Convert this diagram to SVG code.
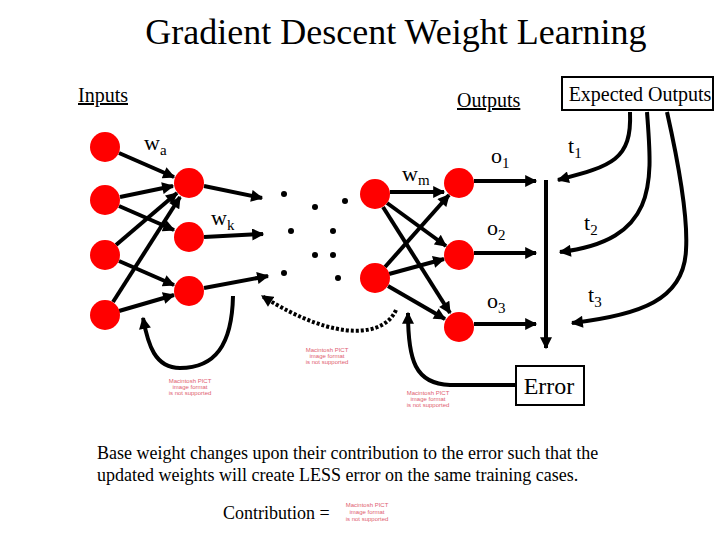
<svg xmlns="http://www.w3.org/2000/svg" width="720" height="540" viewBox="0 0 720 540">
<style>
text{font-family:"Liberation Serif","Times New Roman",serif;fill:#000}
.node{fill:#f00}
.e{stroke:#000;stroke-width:4;fill:none;marker-end:url(#ah)}
.c{stroke:#000;stroke-width:4;fill:none}
.dot{fill:#000}
.pict{font-family:"Liberation Sans",Arial,sans-serif;font-size:6px;fill:#e06070;text-anchor:middle}
.lbl{font-size:22px}
.sub{font-size:15px}
.box{fill:#fff;stroke:#000;stroke-width:2}
</style>
<defs>
<marker id="ah" viewBox="0 0 10 10" refX="9" refY="5" markerWidth="3.2" markerHeight="3" orient="auto" markerUnits="strokeWidth">
<path d="M0,0 L10,5 L0,10 Z" fill="#000"/>
</marker>
</defs>
<rect width="720" height="540" fill="#fff"/>
<text x="396" y="44" font-size="36" text-anchor="middle">Gradient Descent Weight Learning</text>
<text x="78" y="102" font-size="20" text-decoration="underline">Inputs</text>
<text x="457" y="107" font-size="20" text-decoration="underline">Outputs</text>

<g id="connectors">
<line class="e" x1="119" y1="153" x2="174" y2="177"/>
<line class="e" x1="120" y1="197" x2="173" y2="186"/>
<line class="e" x1="119" y1="206" x2="174" y2="230"/>
<line class="e" x1="116" y1="245" x2="177" y2="193"/>
<line class="e" x1="119" y1="261" x2="174" y2="285"/>
<line class="e" x1="113" y1="302" x2="180" y2="197"/>
<line class="e" x1="119" y1="311" x2="174" y2="295"/>
<line class="e" x1="204" y1="186" x2="262" y2="198"/>
<line class="e" x1="204" y1="237" x2="263" y2="234"/>
<line class="e" x1="204" y1="288" x2="268" y2="276"/>
<line class="e" x1="390" y1="192" x2="444" y2="192"/>
<line class="e" x1="387" y1="203" x2="446" y2="246"/>
<line class="e" x1="383" y1="207" x2="450" y2="313"/>
<line class="e" x1="385" y1="267" x2="449" y2="195"/>
<line class="e" x1="389" y1="274" x2="444" y2="259"/>
<line class="e" x1="388" y1="286" x2="445" y2="319"/>
<line class="e" x1="474" y1="181" x2="536" y2="181"/>
<line class="e" x1="474" y1="253" x2="536" y2="253"/>
<line class="e" x1="474" y1="324" x2="536" y2="324"/>
<line class="e" x1="546" y1="180" x2="546" y2="348"/>
<path class="e" d="M630,112 C632,160 612,166 558,180"/>
<path class="e" d="M647,112 C652,180 660,240 560,252"/>
<path class="e" d="M667,112 C680,170 688,220 686,250 C684,300 640,315 572,323"/>
<path class="e" d="M518,385 L450,385 C415,384 408,360 408,313"/>
<path class="e" d="M396,310 C385,335 340,345 262,296" stroke-dasharray="3,2"/>
<path class="e" d="M233,296 C232,345 215,368 180,368 C155,368 148,345 143,318"/>
</g>

<g id="input-1"><circle class="node" cx="105" cy="147" r="15"/></g>
<g id="input-2"><circle class="node" cx="105" cy="200" r="15"/></g>
<g id="input-3"><circle class="node" cx="105" cy="255" r="15"/></g>
<g id="input-4"><circle class="node" cx="105" cy="315" r="15"/></g>
<g id="hidden-1"><circle class="node" cx="189" cy="183" r="15"/></g>
<g id="hidden-2"><circle class="node" cx="189" cy="237" r="15"/></g>
<g id="hidden-3"><circle class="node" cx="189" cy="291" r="15"/></g>
<g id="hidden-a"><circle class="node" cx="375" cy="194" r="15"/></g>
<g id="hidden-b"><circle class="node" cx="375" cy="278" r="15"/></g>
<g id="output-1"><circle class="node" cx="459" cy="183" r="15"/></g>
<g id="output-2"><circle class="node" cx="459" cy="255" r="15"/></g>
<g id="output-3"><circle class="node" cx="459" cy="327" r="15"/></g>

<g id="ellipsis">
<circle class="dot" cx="284" cy="194" r="3"/>
<circle class="dot" cx="315" cy="207" r="3"/>
<circle class="dot" cx="345" cy="201" r="3"/>
<circle class="dot" cx="291" cy="231" r="3"/>
<circle class="dot" cx="333" cy="231" r="3"/>
<circle class="dot" cx="315" cy="255" r="3"/>
<circle class="dot" cx="333" cy="255" r="3"/>
<circle class="dot" cx="284" cy="273" r="3"/>
<circle class="dot" cx="338" cy="278" r="3"/>
</g>

<g id="weight-labels">
<text class="lbl" x="144" y="150">w<tspan class="sub" dy="5">a</tspan></text>
<text class="lbl" x="211" y="225">w<tspan class="sub" dy="5">k</tspan></text>
<text class="lbl" x="402" y="181">w<tspan class="sub" dy="4">m</tspan></text>
</g>
<g id="output-labels">
<text class="lbl" x="491" y="163">o<tspan class="sub" dy="5">1</tspan></text>
<text class="lbl" x="487" y="235">o<tspan class="sub" dy="5">2</tspan></text>
<text class="lbl" x="487" y="308">o<tspan class="sub" dy="5">3</tspan></text>
<text class="lbl" x="568" y="153">t<tspan class="sub" dy="5">1</tspan></text>
<text class="lbl" x="584" y="230">t<tspan class="sub" dy="5">2</tspan></text>
<text class="lbl" x="588" y="302">t<tspan class="sub" dy="5">3</tspan></text>
</g>

<g id="expected-outputs">
<rect class="box" x="562" y="77" width="151" height="33"/>
<text x="640" y="101" font-size="20" text-anchor="middle">Expected Outputs</text>
</g>
<g id="error">
<rect class="box" x="516" y="366" width="68" height="39"/>
<text x="549" y="394" font-size="24" text-anchor="middle">Error</text>
</g>

<g id="pict-placeholders">
<text class="pict" x="190" y="383">Macintosh PICT<tspan x="190" dy="6">image format</tspan><tspan x="190" dy="6">is not supported</tspan></text>
<text class="pict" x="327" y="352">Macintosh PICT<tspan x="327" dy="6">image format</tspan><tspan x="327" dy="6">is not supported</tspan></text>
<text class="pict" x="428" y="395">Macintosh PICT<tspan x="428" dy="6">image format</tspan><tspan x="428" dy="6">is not supported</tspan></text>
<text class="pict" x="367" y="507" font-size="6.5">Macintosh PICT<tspan x="367" dy="7">image format</tspan><tspan x="367" dy="7">is not supported</tspan></text>
</g>

<text x="97" y="459" font-size="18">Base weight changes upon their contribution to the error such that the</text>
<text x="97" y="481" font-size="18">updated weights will create LESS error on the same training cases.</text>
<text x="223" y="519" font-size="18">Contribution  =</text>
</svg>
